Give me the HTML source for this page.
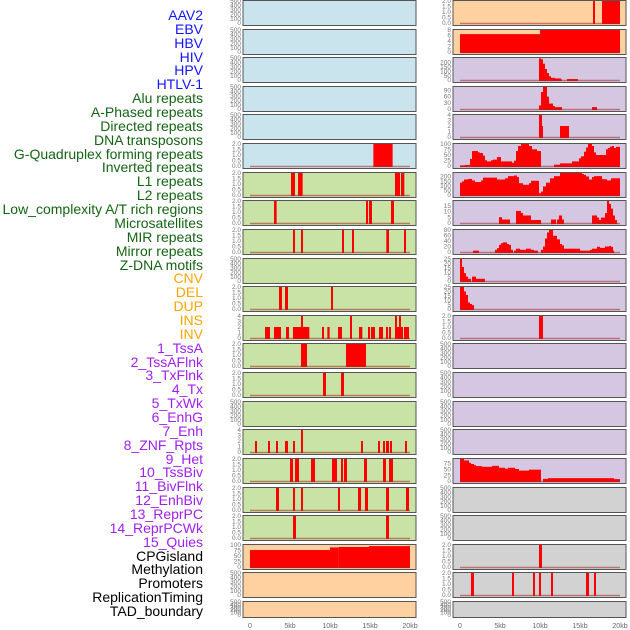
<!DOCTYPE html>
<html><head><meta charset="utf-8"><style>
html,body{margin:0;padding:0;background:#fff;}
svg{display:block;font-family:"Liberation Sans",sans-serif;}
</style></head><body>
<svg id="chart" width="630" height="630" xmlns="http://www.w3.org/2000/svg">
<g id="labels" font-size="14" text-anchor="end">
<text x="203" y="20" fill="#1414ff">AAV2</text>
<text x="203" y="34" fill="#1414ff">EBV</text>
<text x="203" y="48" fill="#1414ff">HBV</text>
<text x="203" y="62" fill="#1414ff">HIV</text>
<text x="203" y="75" fill="#1414ff">HPV</text>
<text x="203" y="89" fill="#1414ff">HTLV-1</text>
<text x="203" y="103" fill="#146414">Alu repeats</text>
<text x="203" y="117" fill="#146414">A-Phased repeats</text>
<text x="203" y="131" fill="#146414">Directed repeats</text>
<text x="203" y="145" fill="#146414">DNA transposons</text>
<text x="203" y="159" fill="#146414">G-Quadruplex forming repeats</text>
<text x="203" y="172" fill="#146414">Inverted repeats</text>
<text x="203" y="186" fill="#146414">L1 repeats</text>
<text x="203" y="200" fill="#146414">L2 repeats</text>
<text x="203" y="214" fill="#146414">Low_complexity A/T rich regions</text>
<text x="203" y="228" fill="#146414">Microsatellites</text>
<text x="203" y="242" fill="#146414">MIR repeats</text>
<text x="203" y="256" fill="#146414">Mirror repeats</text>
<text x="203" y="270" fill="#146414">Z-DNA motifs</text>
<text x="203" y="283" fill="#ffa500">CNV</text>
<text x="203" y="297" fill="#ffa500">DEL</text>
<text x="203" y="311" fill="#ffa500">DUP</text>
<text x="203" y="325" fill="#ffa500">INS</text>
<text x="203" y="339" fill="#ffa500">INV</text>
<text x="203" y="353" fill="#a020f0">1_TssA</text>
<text x="203" y="367" fill="#a020f0">2_TssAFlnk</text>
<text x="203" y="380" fill="#a020f0">3_TxFlnk</text>
<text x="203" y="394" fill="#a020f0">4_Tx</text>
<text x="203" y="408" fill="#a020f0">5_TxWk</text>
<text x="203" y="422" fill="#a020f0">6_EnhG</text>
<text x="203" y="436" fill="#a020f0">7_Enh</text>
<text x="203" y="450" fill="#a020f0">8_ZNF_Rpts</text>
<text x="203" y="464" fill="#a020f0">9_Het</text>
<text x="203" y="477" fill="#a020f0">10_TssBiv</text>
<text x="203" y="491" fill="#a020f0">11_BivFlnk</text>
<text x="203" y="505" fill="#a020f0">12_EnhBiv</text>
<text x="203" y="519" fill="#a020f0">13_ReprPC</text>
<text x="203" y="533" fill="#a020f0">14_ReprPCWk</text>
<text x="203" y="547" fill="#a020f0">15_Quies</text>
<text x="203" y="561" fill="#000">CPGisland</text>
<text x="203" y="574" fill="#000">Methylation</text>
<text x="203" y="588" fill="#000">Promoters</text>
<text x="203" y="602" fill="#000">ReplicationTiming</text>
<text x="203" y="616" fill="#000">TAD_boundary</text>
</g>
<g id="panels"></g>
</svg>
<script>
// ---- data (kb start, kb end, value) ----
const xTickValues = [0, 5, 10, 15, 20];
const xTickLabels = ["0", "5kb", "10kb", "15kb", "20kb"];
const ticks500 = [0, 100, 200, 300, 400, 500];
const ticks2 = [0, 0.5, 1, 1.5, 2];
const ticks4 = [0, 1, 2, 3, 4];
const ticks100 = [0, 25, 50, 75, 100];

const L6 = [[15.42,17.83,2]];
const L7 = [[5.125,5.625,2],[6,6.58,2],[18.125,18.75,2],[18.875,19.29,2]];
const L8 = [[3,3.33,2],[14.5,14.75,2],[14.875,15.25,2],[17.625,18,2]];
const L9 = [[5.375,5.625,2],[6.375,6.625,2],[11.5,11.75,2],[12.75,13,2],[17.04,17.375,2],[19.25,19.5,2]];
const L11 = [[3.625,4,2],[4.375,4.75,2],[10.125,10.375,2]];
const L12 = [[1.875,2.5,2],[3,3.875,2],[4.5,4.875,2],[5.375,6.375,2],[6.375,6.625,4],[6.625,7.417,2],[9,9.25,2],[9.667,9.958,2],[11,11.5,2],[12.5,12.75,4],[13.625,14.042,2],[14.75,15,2],[15.125,15.625,2],[16.125,16.625,2],[17,17.25,2],[17.375,17.625,2],[18.125,18.375,4],[18.375,18.625,2],[18.625,18.875,4],[18.875,19.125,2],[19.25,19.875,2]];
const L13 = [[6.375,7.125,2],[12,14.5,2]];
const L14 = [[9.125,9.5,2],[11.375,11.75,2]];
const L16 = [[0.625,0.875,2],[2.25,2.5,2],[3.25,3.5,2],[4.375,4.75,2],[5.375,5.625,2],[6.375,6.625,4],[13.875,14.125,2],[16,16.25,2],[16.625,16.875,2],[17,17.375,2],[17.5,17.75,2],[19.375,19.625,2]];
const L17 = [[5,5.375,2],[5.625,6.125,2],[7.625,8.125,2],[10.25,10.875,2],[11.375,11.625,2],[11.75,12.125,2],[14.25,14.625,2],[16.625,17,2],[17.375,17.875,2]];
const L18 = [[3.25,3.625,2],[5.375,5.625,2],[6.375,6.625,2],[11,11.25,2],[13.5,13.875,2],[14.375,14.75,2],[17,17.375,2],[19.5,19.875,2]];
const L19 = [[5.375,5.75,2],[17,17.375,2]];
const L20 = [[0,10,77],[10,11.1,89],[11.1,14.875,91],[14.875,20,95]];

const R1 = [[16.625,16.875,2],[17.75,20,2]];
const R2 = [[0,10,6.5],[10,20,8]];
const R3 = [[9.875,10.125,245],[10.125,10.375,236],[10.375,10.625,185],[10.625,10.875,125],[10.875,11.125,79],[11.125,11.375,43],[11.375,11.875,25],[11.875,12.625,18],[12.625,12.75,8],[13.375,14.75,11]];
const R4 = [[9.875,10.125,17],[10.125,10.375,81],[10.375,10.875,105],[10.875,11.125,59],[11.125,11.625,26],[11.625,11.875,14],[11.875,12.75,9],[16.5,17.125,9]];
const R5 = [[9.875,10.25,4],[10.25,10.375,2],[12.5,13.625,2]];
const R6 = [[0,0.625,3],[0.625,1.25,5],[1.25,1.5,32],[1.5,2.25,68],[2.25,2.5,62],[2.5,2.875,59],[2.875,3.125,47],[3.125,3.375,26],[3.375,3.875,21],[3.875,4.125,26],[4.125,4.625,29],[4.625,5.125,41],[5.125,6.5,21],[6.5,6.75,15],[6.75,7,24],[7,7.25,68],[7.25,7.625,91],[7.625,8.25,100],[8.25,8.625,100],[8.625,9,91],[9,9.625,76],[9.625,10.125,68],[11.75,12.5,6],[12.5,14,12],[14,14.875,21],[14.875,15.125,35],[15.125,15.5,44],[15.5,15.75,65],[15.75,16,84],[16,16.5,100],[16.5,16.75,91],[16.75,17,62],[17,18.25,50],[18.25,18.5,76],[18.5,18.75,82],[18.75,19,88],[19,19.25,91],[19.25,19.5,82],[19.5,20,87]];
const R7 = [[0,0.25,133],[0.25,0.5,147],[0.5,1,167],[1,1.5,173],[1.5,1.875,157],[1.875,2.625,140],[2.625,2.875,157],[2.875,4.625,187],[4.625,5.625,167],[5.625,6,180],[6,6.75,203],[6.75,7.125,210],[7.125,7.375,193],[7.375,7.875,127],[7.875,8.625,110],[8.625,8.875,127],[8.875,9.875,153],[9.875,10.125,20],[10.125,10.375,37],[10.375,10.75,93],[10.75,11.25,133],[11.25,11.75,180],[11.75,12.5,203],[12.5,15.25,237],[15.25,15.5,227],[15.5,15.75,217],[15.75,16.125,200],[16.125,16.5,167],[16.5,16.75,193],[16.75,17.75,203],[17.75,18.375,170],[18.375,18.875,157],[18.875,20,180]];
const R8 = [[4.875,5.25,5],[5.25,6.25,3],[7,7.625,10.4],[7.625,7.875,8.6],[7.875,8.875,6.5],[8.875,10.125,2.6],[11.375,12,3],[12.125,12.375,3],[12.375,12.75,6.5],[12.75,13,3],[16.5,17.125,6.5],[17.125,17.375,4.7],[17.375,17.625,2.6],[17.625,18.125,4.7],[18.125,18.375,8.6],[18.375,18.625,19],[18.625,18.875,16.5],[18.875,19.125,12.4],[19.125,19.375,6.5],[19.375,19.625,2.6]];
const R9 = [[1.625,2.375,5],[4.375,4.625,8],[4.625,4.875,14],[4.875,5.125,26],[5.125,5.375,32],[5.375,5.875,35],[5.875,6.125,29],[6.125,6.375,26],[6.375,6.625,8],[6.75,7,5],[7,7.5,12],[7.5,8.25,8],[8.25,8.875,12],[8.875,9.25,8],[9.25,9.75,5],[10.125,10.375,8],[10.375,10.625,20],[10.625,10.875,49],[10.875,11.125,71],[11.125,11.625,80],[11.625,12.125,59],[12.125,12.5,46],[12.5,12.75,29],[12.75,13,24],[13,15,12],[15,16.25,5],[16.25,16.5,8],[16.5,17.125,12],[17.125,17.5,19],[17.5,18.125,15],[18.125,18.625,20],[18.625,18.875,22],[18.875,19.125,19],[19.125,19.25,5]];
const R10 = [[0,0.25,25],[0.25,0.5,16],[0.5,0.75,9],[0.75,1,5],[1,1.375,2.5],[1.5,2,5],[2,3.125,2.5]];
const R11 = [[0,0.5,25],[0.5,0.75,20],[0.75,1,16],[1,1.25,7.4],[1.25,1.5,5.7],[1.5,1.75,4.4]];
const R12 = [[9.875,10.375,2]];
const R17 = [[0,0.5,93],[0.5,1.125,87],[1.125,1.375,77],[1.375,1.75,72],[1.75,2,67],[2,2.75,63],[2.75,4,60],[4,4.875,64],[4.875,5.625,56],[5.625,6,52],[6,6.875,56],[6.875,7.375,51],[7.375,8.625,44],[8.625,10.125,48],[10.375,11,9],[11,19.25,12],[19.25,20,8]];
const R20 = [[9.875,10.25,2]];
const R21 = [[1.375,1.75,2],[6.5,6.75,2],[9.125,9.375,2],[9.875,10.125,2],[11.375,11.625,2],[15.75,16.125,2],[16.75,17,2]];

const BLUE="#c9e4ec", GREEN="#c9e2a5", ORANGE="#ffd1a0", LAV="#d5c7e2", GREY="#d2d2d2";
const leftPanels = [
 [BLUE,ticks500,500,null],[BLUE,ticks500,500,null],[BLUE,ticks500,500,null],[BLUE,ticks500,500,null],[BLUE,ticks500,500,null],
 [BLUE,ticks2,2,L6],[GREEN,ticks2,2,L7],[GREEN,ticks2,2,L8],[GREEN,ticks2,2,L9],[GREEN,ticks500,500,null],
 [GREEN,ticks2,2,L11],[GREEN,ticks4,4,L12],[GREEN,ticks2,2,L13],[GREEN,ticks2,2,L14],[GREEN,ticks500,500,null],
 [GREEN,ticks4,4,L16],[GREEN,ticks2,2,L17],[GREEN,ticks2,2,L18],[GREEN,ticks2,2,L19],[ORANGE,ticks100,100,L20],
 [ORANGE,ticks500,500,null],[ORANGE,ticks500,500,null]
];
const rightPanels = [
 [ORANGE,ticks2,2,R1],[ORANGE,[0,2,4,6,8],8,R2],[LAV,[0,50,100,150,200],250,R3],[LAV,[0,30,60,90],105,R4],[LAV,ticks4,4,R5],
 [LAV,ticks100,100,R6],[LAV,[0,50,100,150,200],237,R7],[LAV,[0,5,10,15],19,R8],[LAV,[0,20,40,60,80],80,R9],[LAV,[0,5,10,15,20,25],25,R10],
 [LAV,[0,5,10,15,20,25],25,R11],[LAV,ticks2,2,R12],[LAV,ticks500,500,null],[LAV,ticks500,500,null],[LAV,ticks500,500,null],
 [LAV,ticks500,500,null],[LAV,[0,25,50,75],93,R17],[GREY,ticks500,500,null],[GREY,ticks500,500,null],[GREY,ticks2,2,R20],
 [GREY,ticks2,2,R21],[GREY,ticks500,500,null]
];

const NS="http://www.w3.org/2000/svg";
const root=document.getElementById('panels');
function mk(tag,attrs,parent){const e=document.createElementNS(NS,tag);for(const k in attrs)e.setAttribute(k,attrs[k]);parent.appendChild(e);return e;}
function fmt(v,ticks){return ticks.some(t=>t%1!==0)?v.toFixed(1):String(v);}

function drawColumn(panels,colLeft,colRight,x0,colName){
  const xs=kb=>x0+kb*8;
  panels.forEach((p,i)=>{
    const [bg,ticks,ymax,data]=p;
    const top=Math.round(i*28.62);
    const h=(i===21)?16:25;
    const ys=v=>top+h-2-v/ymax*(h-3);
    const g=mk('g',{},root);
    
    
    const bgr=mk('rect',{x:colLeft,y:top+0.5,width:colRight-colLeft,height:h,fill:bg,stroke:'#555','stroke-width':1},g);
    
    
    ticks.forEach(t=>{
      const tx=mk('text',{x:colLeft-2,y:ys(t)+2.2,'font-size':6.5,fill:'#777','text-anchor':'end'},g);
      tx.textContent=fmt(t,ticks);
      
      
    });
    if(data){
      data.forEach(d=>{
        const r=mk('rect',{x:xs(d[0]),y:ys(d[2]),width:Math.max(0.8,xs(d[1])-xs(d[0])),height:ys(0)-ys(d[2])+1,fill:'#ff0000'},g);
        
        
      });
      const bl=mk('line',{x1:xs(0),x2:xs(20),y1:ys(0)+0.5,y2:ys(0)+0.5,stroke:'rgba(160,40,40,0.55)','stroke-width':1.5},g);
      
      
    }
  });
  xTickValues.forEach((v,j)=>{
    const t=mk('text',{x:xs(v),y:628,'font-size':7,fill:'#666','text-anchor':'middle'},root);
    t.textContent=xTickLabels[j];
    
    
  });
}
drawColumn(leftPanels,243,416,250,'left');
drawColumn(rightPanels,453,626,460,'right');
</script>
</body></html>
